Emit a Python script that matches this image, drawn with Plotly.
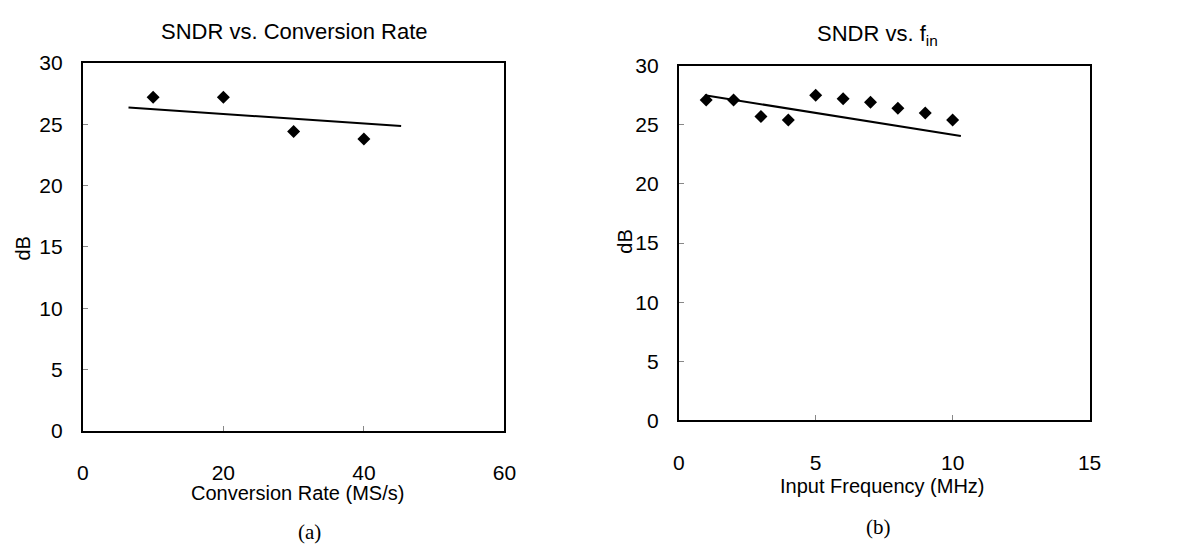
import plotly.graph_objects as go

# Data
rate_x = [10, 20, 30, 40]
rate_sndr = [27.2, 27.2, 24.4, 23.8]
rate_trend_x = [6.5, 45.3]
rate_trend_y = [26.35, 24.85]

fin_x = [1, 2, 3, 4, 5, 6, 7, 8, 9, 10]
fin_sndr = [27.1, 27.1, 25.7, 25.4, 27.5, 27.2, 26.9, 26.4, 26.0, 25.4]
fin_trend_x = [0.95, 10.3]
fin_trend_y = [27.5, 24.05]

rate_ticks = [0, 20, 40, 60]
fin_ticks = [0, 5, 10, 15]
db_ticks = [0, 5, 10, 15, 20, 25, 30]

FONT = "Liberation Sans, Arial, sans-serif"
SERIF = "Liberation Serif, Times New Roman, serif"
W, H = 1204, 558

fig = go.Figure()

fig.add_trace(go.Scatter(x=rate_x, y=rate_sndr, mode="markers",
                         marker=dict(symbol="diamond", size=10, color="black"),
                         xaxis="x", yaxis="y", showlegend=False))
fig.add_trace(go.Scatter(x=rate_trend_x, y=rate_trend_y, mode="lines",
                         line=dict(color="black", width=2),
                         xaxis="x", yaxis="y", showlegend=False))
fig.add_trace(go.Scatter(x=fin_x, y=fin_sndr, mode="markers",
                         marker=dict(symbol="diamond", size=10, color="black"),
                         xaxis="x2", yaxis="y2", showlegend=False))
fig.add_trace(go.Scatter(x=fin_trend_x, y=fin_trend_y, mode="lines",
                         line=dict(color="black", width=2),
                         xaxis="x2", yaxis="y2", showlegend=False))

# plot areas in pixels (left, right, top, bottom)
A = (78, 506, 53, 437)
B = (683, 1100, 56, 426)

def dom_x(p):
    return [p[0] / W, p[1] / W]

def dom_y(p):
    return [(H - p[3]) / H, (H - p[2]) / H]

axis_common = dict(showline=True, linecolor="black", linewidth=2, mirror=True,
                   ticks="inside", ticklen=5, tickwidth=1, tickcolor="#888",
                   showgrid=False, zeroline=False,
                   tickfont=dict(family=FONT, size=21, color="black"))

fig.update_layout(
    width=W, height=H,
    margin=dict(l=0, r=0, t=0, b=0),
    paper_bgcolor="white", plot_bgcolor="white",
    xaxis=dict(domain=dom_x(A), range=[0, 60], tickvals=rate_ticks,
               ticklabelstandoff=22, anchor="y", **axis_common),
    yaxis=dict(domain=dom_y(A), range=[0, 30], tickvals=db_ticks,
               ticklabelstandoff=14, anchor="x", **axis_common),
    xaxis2=dict(domain=dom_x(B), range=[0, 15], tickvals=fin_ticks,
                ticklabelstandoff=22, anchor="y2", **axis_common),
    yaxis2=dict(domain=dom_y(B), range=[0, 30], tickvals=db_ticks,
                ticklabelstandoff=14, anchor="x2", **axis_common),
)

def ann(text, xpx, ypx, size, family=FONT, angle=0):
    fig.add_annotation(text=text, x=xpx / W, y=1 - ypx / H, xref="paper", yref="paper",
                       showarrow=False, xanchor="center", yanchor="middle",
                       textangle=angle, font=dict(family=family, size=size, color="black"))

ann("SNDR vs. Conversion Rate", 293, 20, 22)
ann("SNDR vs. f<sub>in</sub>", 885, 24, 22)
ann("Conversion Rate (MS/s)", 296, 502, 20)
ann("Input Frequency (MHz)", 890, 494, 20)
ann("dB", 17, 247, 20, angle=-90)
ann("dB", 628, 240, 20, angle=-90)
ann("(a)", 308, 542, 21, family=SERIF)
ann("(b)", 886, 537, 21, family=SERIF)

fig.write_html("out.html")
